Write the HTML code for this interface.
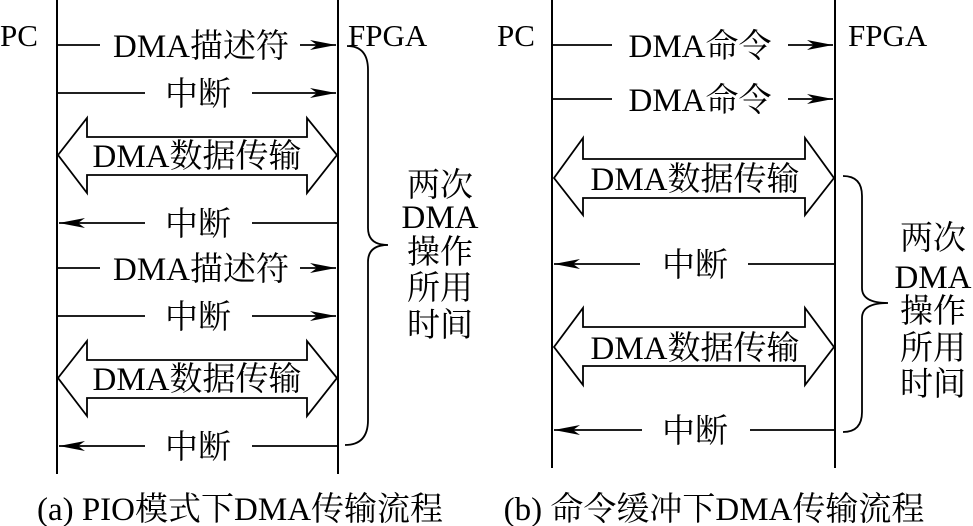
<!DOCTYPE html>
<html><head><meta charset="utf-8"><style>
html,body{margin:0;padding:0;background:#fff;}
svg{display:block;}
text{font-family:"Liberation Serif","Noto Serif CJK SC",serif;fill:#000;}
.l{font-family:"Liberation Serif",serif;}
</style></head><body>
<svg width="973" height="526" viewBox="0 0 973 526" xmlns="http://www.w3.org/2000/svg">
<defs>
<marker id="ah" markerWidth="26" markerHeight="10" refX="26" refY="5" orient="auto" markerUnits="userSpaceOnUse">
<path d="M0,0 L26,5 L0,10 L7,5 Z" fill="#000"/>
</marker>
</defs>
<g stroke="#000" stroke-width="2" fill="none">
<line x1="57" y1="0" x2="57" y2="474"/>
<line x1="338" y1="0" x2="338" y2="474"/>
<line x1="552" y1="0" x2="552" y2="468"/>
<line x1="835" y1="0" x2="835" y2="468"/>
</g>
<g stroke="#000" stroke-width="1.8" fill="none">
<line x1="58" y1="45" x2="100" y2="45"/><line x1="300" y1="45" x2="336" y2="45" marker-end="url(#ah)"/>
<line x1="58" y1="93" x2="145" y2="93"/><line x1="252" y1="93" x2="336" y2="93" marker-end="url(#ah)"/>
<path d="M58,155 L87,118 L87,137 L307,137 L307,118 L337,155 L307,193 L307,175 L87,175 L87,193 Z"/>
<line x1="145" y1="223" x2="59" y2="223" marker-end="url(#ah)"/><line x1="252" y1="223" x2="337" y2="223"/>
<line x1="58" y1="268" x2="100" y2="268"/><line x1="300" y1="268" x2="336" y2="268" marker-end="url(#ah)"/>
<line x1="58" y1="316" x2="145" y2="316"/><line x1="252" y1="316" x2="336" y2="316" marker-end="url(#ah)"/>
<path d="M58,378 L87,341 L87,360 L307,360 L307,341 L337,378 L307,416 L307,398 L87,398 L87,416 Z"/>
<line x1="145" y1="446" x2="59" y2="446" marker-end="url(#ah)"/><line x1="252" y1="446" x2="337" y2="446"/>
<path d="M347,46 Q368,46 368,70 L368,228 Q368,245 388,245 Q368,245 368,262 L368,420 Q368,445 345,445"/>
<line x1="553" y1="45" x2="612" y2="45"/><line x1="788" y1="45" x2="833" y2="45" marker-end="url(#ah)"/>
<line x1="553" y1="99" x2="612" y2="99"/><line x1="788" y1="99" x2="833" y2="99" marker-end="url(#ah)"/>
<path d="M554,178 L583,138 L583,159 L805,159 L805,138 L834,178 L805,215 L805,198 L583,198 L583,215 Z"/>
<line x1="640" y1="264" x2="554" y2="264" marker-end="url(#ah)"/><line x1="748" y1="264" x2="834" y2="264"/>
<path d="M554,347 L583,308 L583,327 L805,327 L805,308 L834,347 L805,385 L805,366 L583,366 L583,385 Z"/>
<line x1="642" y1="430" x2="554" y2="430" marker-end="url(#ah)"/><line x1="750" y1="430" x2="834" y2="430"/>
<path d="M843,176 Q862,176 862,196 L862,288 Q862,303 888,303 Q862,303 862,318 L862,412 Q862,432 843,432"/>
</g>
<g font-size="33">
<text x="0" y="46" class="l" font-size="31">PC</text>
<text x="348" y="46" class="l" font-size="31">FPGA</text>
<text x="497" y="46" class="l" font-size="31">PC</text>
<text x="848" y="46" class="l" font-size="31">FPGA</text>
<g text-anchor="middle">
<text x="201" y="57"><tspan class="l">DMA</tspan>描述符</text>
<text x="198" y="105">中断</text>
<text x="197" y="167"><tspan class="l">DMA</tspan>数据传输</text>
<text x="198" y="235">中断</text>
<text x="201" y="280"><tspan class="l">DMA</tspan>描述符</text>
<text x="198" y="328">中断</text>
<text x="197" y="390"><tspan class="l">DMA</tspan>数据传输</text>
<text x="198" y="458">中断</text>
<text x="440" y="196">两次</text>
<text x="440" y="228" class="l">DMA</text>
<text x="440" y="263">操作</text>
<text x="440" y="299">所用</text>
<text x="440" y="336">时间</text>
<text x="700" y="57"><tspan class="l">DMA</tspan>命令</text>
<text x="700" y="111"><tspan class="l">DMA</tspan>命令</text>
<text x="695" y="190"><tspan class="l">DMA</tspan>数据传输</text>
<text x="695" y="276">中断</text>
<text x="695" y="359"><tspan class="l">DMA</tspan>数据传输</text>
<text x="695" y="442">中断</text>
<text x="933" y="249">两次</text>
<text x="933" y="288" class="l">DMA</text>
<text x="933" y="322">操作</text>
<text x="933" y="359">所用</text>
<text x="933" y="395">时间</text>
<text x="240" y="520" font-size="33"><tspan class="l">(a) PIO</tspan>模式下<tspan class="l">DMA</tspan>传输流程</text>
<text x="714" y="520" font-size="33"><tspan class="l">(b) </tspan>命令缓冲下<tspan class="l">DMA</tspan>传输流程</text>
</g>
</g>
</svg>
</body></html>
